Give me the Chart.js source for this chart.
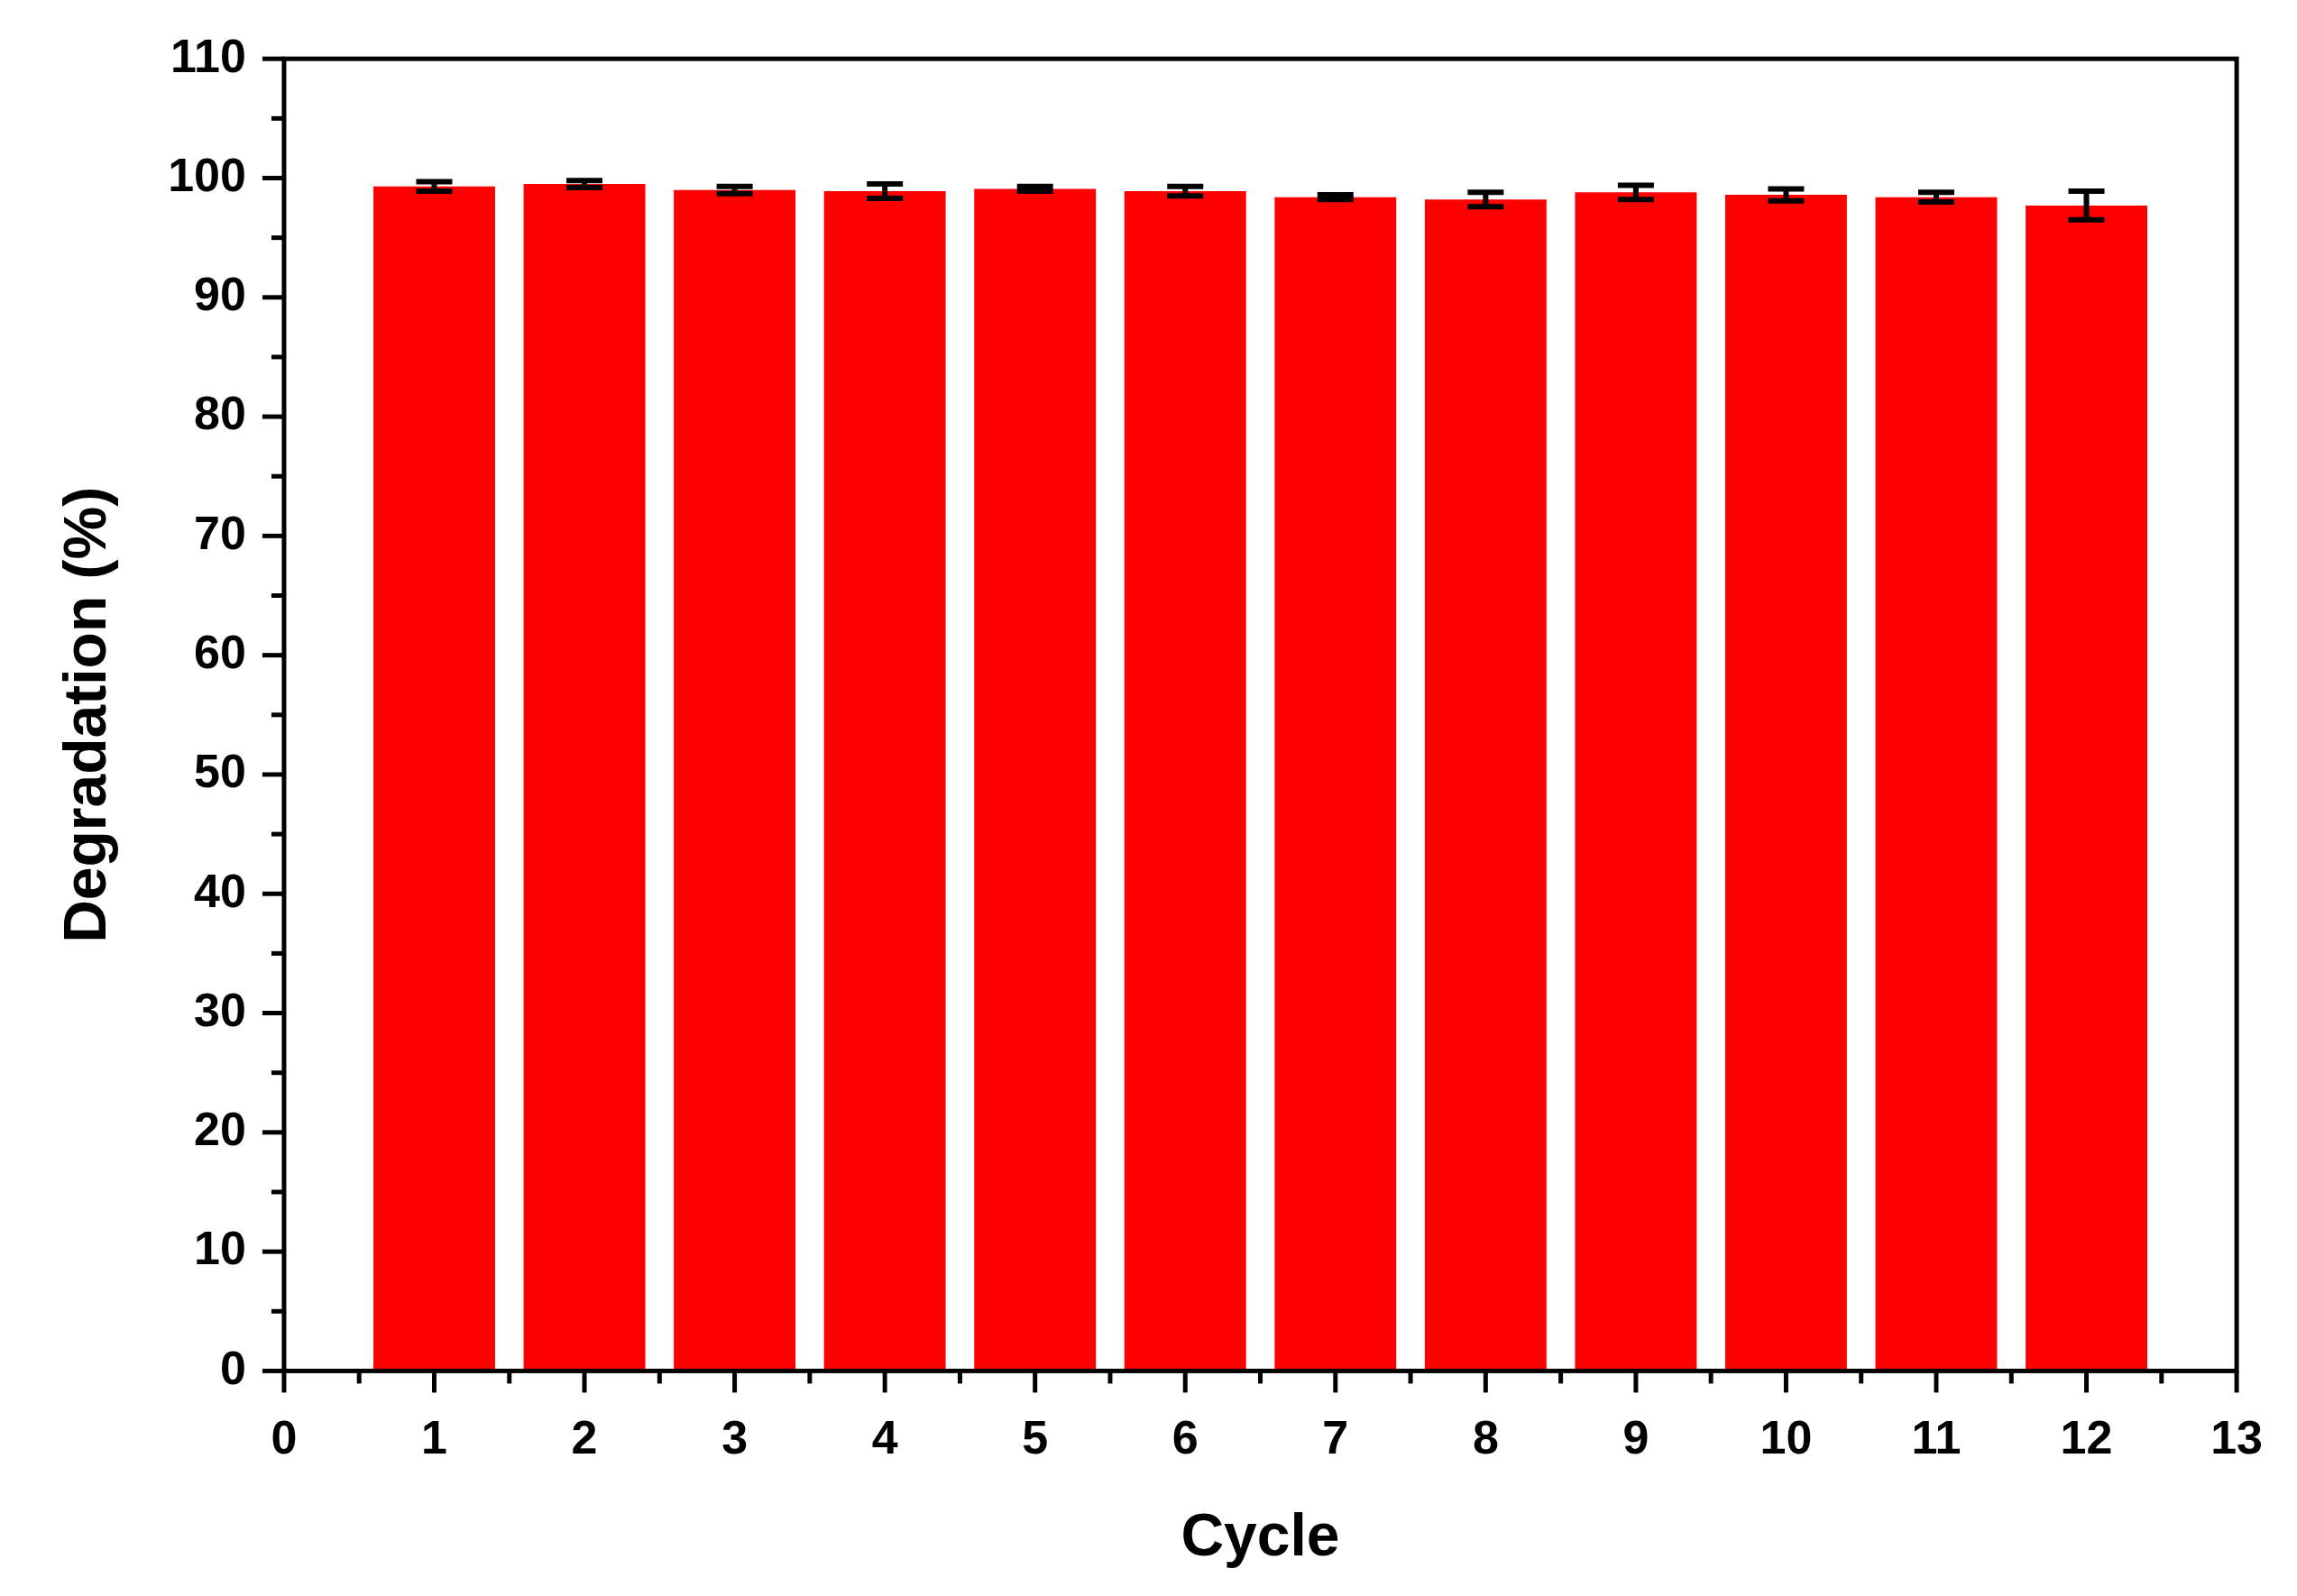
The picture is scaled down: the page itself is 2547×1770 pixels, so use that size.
<!DOCTYPE html>
<html><head><meta charset="utf-8">
<script src="https://cdn.jsdelivr.net/npm/chart.js@4/dist/chart.umd.min.js"></script>
<style>html,body{margin:0;padding:0;background:#fff}#w{width:2547px;height:1770px}</style>
</head><body><div id="w"><canvas id="c"></canvas></div>
<script>
const cycles=[1,2,3,4,5,6,7,8,9,10,11,12];
const degradation=[99.3,99.5,99.0,98.9,99.1,98.9,98.4,98.2,98.8,98.6,98.4,97.7];
const errors=[0.4,0.3,0.3,0.6,0.2,0.4,0.2,0.6,0.6,0.5,0.4,1.2];
const yTicks=[0,10,20,30,40,50,60,70,80,90,100,110];
const xTicks=[0,1,2,3,4,5,6,7,8,9,10,11,12,13];
const F='"Liberation Sans",Arial,sans-serif';
const deco={id:'deco',afterDatasetsDraw(ch){
  const c=ch.ctx,a=ch.chartArea,x=ch.scales.x,y=ch.scales.y;
  c.save();c.strokeStyle='#000';c.lineWidth=5;
  c.strokeRect(a.left,a.top,a.right-a.left,a.bottom-a.top);
  for(let v=0;v<=110;v+=5){const p=y.getPixelForValue(v);const L=v%10===0?24:14;
    c.beginPath();c.moveTo(a.left,p);c.lineTo(a.left-L,p);c.stroke();}
  for(let v=0;v<=13;v+=0.5){const p=x.getPixelForValue(v);const L=Number.isInteger(v)?24:14;
    c.beginPath();c.moveTo(p,a.bottom);c.lineTo(p,a.bottom+L);c.stroke();}
  c.lineWidth=6;
  cycles.forEach((cv,i)=>{const px=x.getPixelForValue(cv);
    const t=y.getPixelForValue(degradation[i]+errors[i]),b=y.getPixelForValue(degradation[i]-errors[i]);
    c.beginPath();c.moveTo(px,t);c.lineTo(px,b);
    c.moveTo(px-20,t);c.lineTo(px+20,t);c.moveTo(px-20,b);c.lineTo(px+20,b);c.stroke();});
  c.restore();}};
new Chart(document.getElementById('c'),{type:'bar',
 data:{datasets:[{data:cycles.map((v,i)=>({x:v,y:degradation[i]})),backgroundColor:'#ff0000',borderWidth:0,barPercentage:0.81,categoryPercentage:1}]},
 options:{responsive:true,maintainAspectRatio:false,animation:false,
  layout:{padding:{top:45,right:60,left:55,bottom:20}},
  plugins:{legend:{display:false},tooltip:{enabled:false}},
  scales:{
   x:{type:'linear',offset:false,min:0,max:13,afterBuildTicks(s){s.ticks=xTicks.map(v=>({value:v}));},
      grid:{display:false},border:{display:false},
      ticks:{color:'#000',font:{family:F,size:52,weight:'bold'},padding:38,maxRotation:0},
      title:{display:true,text:'Cycle',color:'#000',font:{family:F,size:66,weight:'bold'},padding:{top:0}}},
   y:{min:0,max:110,afterBuildTicks(s){s.ticks=yTicks.map(v=>({value:v}));},
      grid:{display:false},border:{display:false},
      ticks:{color:'#000',font:{family:F,size:52,weight:'bold'},padding:34},
      title:{display:true,text:'Degradation (%)',color:'#000',font:{family:F,size:66,weight:'bold'},padding:{bottom:14}}}
  }},plugins:[deco]});
</script></body></html>
